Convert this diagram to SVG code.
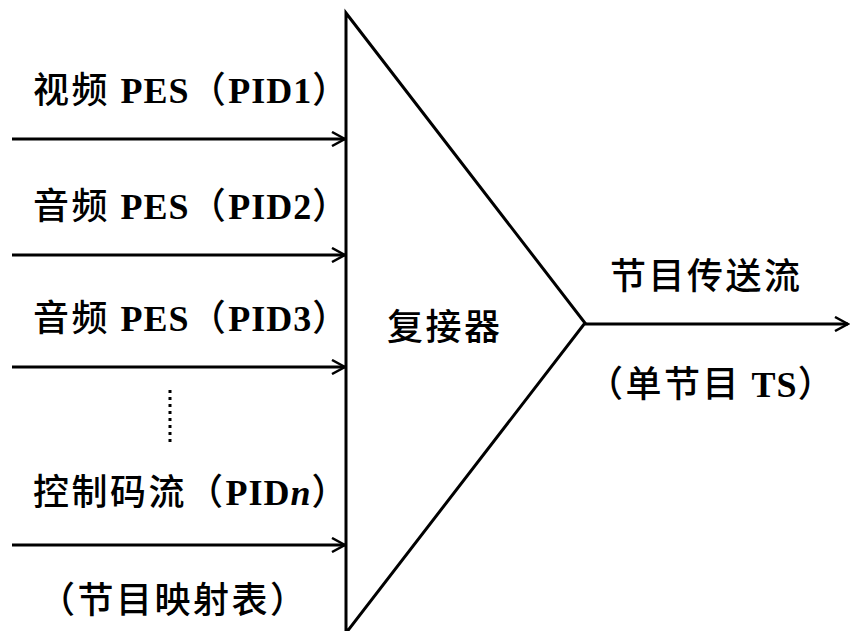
<svg xmlns="http://www.w3.org/2000/svg" width="852" height="631" viewBox="0 0 852 631">
<style>
.t{font-size:36px;fill:#000;}
.c{font-family:"Noto Sans CJK SC",sans-serif;font-weight:500;letter-spacing:2.5px;}
.l{font-family:"Liberation Serif",serif;font-weight:bold;letter-spacing:1px;}
.ln{stroke:#000;stroke-width:3;fill:none;}
</style>
<defs>
<marker id="ah" markerWidth="16" markerHeight="16" refX="14" refY="8" orient="auto" markerUnits="userSpaceOnUse">
<path d="M1,1 L14,8 L1,15" fill="none" stroke="#000" stroke-width="2.5"/>
</marker>
</defs>
<g id="mux">
<path class="ln" d="M346,13 L585,323 L346,633 Z"/>
<text class="t c" x="387" y="340">复接器</text>
</g>
<g id="in1"><text class="t" x="33" y="103"><tspan class="c">视频 </tspan><tspan class="l">PES</tspan><tspan class="c">（</tspan><tspan class="l">PID1</tspan><tspan class="c">）</tspan></text></g>
<g id="in2"><text class="t" x="33" y="219"><tspan class="c">音频 </tspan><tspan class="l">PES</tspan><tspan class="c">（</tspan><tspan class="l">PID2</tspan><tspan class="c">）</tspan></text></g>
<g id="in3"><text class="t" x="33" y="331"><tspan class="c">音频 </tspan><tspan class="l">PES</tspan><tspan class="c">（</tspan><tspan class="l">PID3</tspan><tspan class="c">）</tspan></text></g>
<g id="inn"><text class="t" x="33" y="505"><tspan class="c">控制码流（</tspan><tspan class="l">PID</tspan><tspan class="l" font-style="italic">n</tspan><tspan class="c">）</tspan></text>
<text class="t c" x="39" y="613">（节目映射表）</text></g>
<g id="out"><text class="t c" x="610" y="289">节目传送流</text>
<text class="t" x="587" y="397"><tspan class="c">（单节目 </tspan><tspan class="l">TS</tspan><tspan class="c">）</tspan></text></g>
<g id="connectors">
<line class="ln" x1="12" y1="139" x2="345" y2="139" marker-end="url(#ah)"/>
<line class="ln" x1="12" y1="255" x2="345" y2="255" marker-end="url(#ah)"/>
<line class="ln" x1="12" y1="367" x2="345" y2="367" marker-end="url(#ah)"/>
<line class="ln" x1="12" y1="545" x2="345" y2="545" marker-end="url(#ah)"/>
<line class="ln" x1="585" y1="324" x2="848" y2="324" marker-end="url(#ah)"/>
<line x1="170" y1="390" x2="170" y2="442" stroke="#000" stroke-width="3" stroke-dasharray="3,4"/>
</g>
</svg>
